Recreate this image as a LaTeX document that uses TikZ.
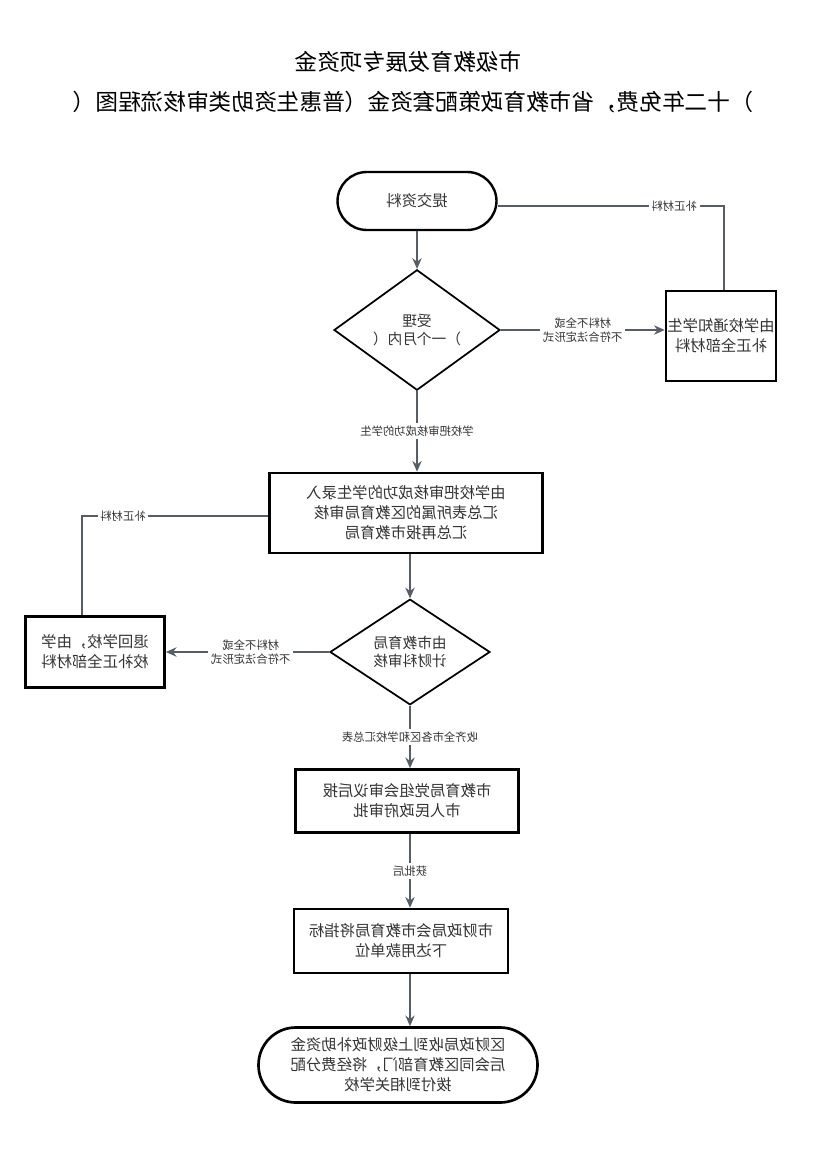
\documentclass[tikz,border=0pt]{standalone}
\usepackage{fontspec}
\usetikzlibrary{shapes.geometric,arrows.meta,positioning}
\newfontfamily\cjk{Noto Sans CJK SC}
\makeatletter
\def\mirtxt#1{\reflectbox{\mir@a{}#1\mir@end}}
\def\mir@a#1#2{\ifx#2\mir@end\mir@done{#1}\else\mir@next{#2#1}\fi}
\def\mir@done#1#2\fi{\fi#1}
\def\mir@next#1#2\fi{\fi\mir@a{#1}}
\def\mir@end{\mir@end}
\makeatother
\definecolor{ln}{HTML}{555E66}
\definecolor{tx}{HTML}{333333}
\tikzset{
 px/.style={x=0.75pt,y=-0.75pt},
 box/.style={draw=black,line width=2pt,align=center,font=\cjk\fontsize{11.5}{15}\selectfont,text=tx,inner sep=0pt},
 dia/.style={diamond,draw=black,line width=1.3pt,align=center,font=\cjk\fontsize{11}{14}\selectfont,text=tx,inner sep=0pt},
 con/.style={draw=ln,line width=1.6pt},
 arr/.style={con,-{Stealth[length=8pt,width=7pt]}},
 lab/.style={fill=white,font=\cjk\fontsize{8.5}{10.5}\selectfont,text=tx,align=center,inner sep=2pt},
 ttl/.style={font=\cjk\fontsize{17}{19}\selectfont,text=black},
}
\begin{document}
\begin{tikzpicture}[px]
\useasboundingbox (0,0) rectangle (826,1169);
\node[ttl] (t1) at (408,62) {\mirtxt{金资项专展发育教级市}};
\node[ttl] (t2) at (413,102) {\mirtxt{（图程流核审类助资生惠普（金资套配策政育教市省，费免年二十）}};
\node[box,line width=1.8pt,minimum width=159*0.75pt,minimum height=58*0.75pt,rounded corners=22pt] (s) at (417,201) {\mirtxt{料资交提}};
\node[dia,minimum width=166*0.75pt,minimum height=90*0.75pt] (d1) at (417,330) {\mirtxt{理受}\\\mirtxt{（内月个一）}};
\node[box,minimum width=110*0.75pt,minimum height=90*0.75pt] (b1) at (721,336) {\mirtxt{生学知通校学由}\\\mirtxt{料材部全正补}};
\node[box,minimum width=273*0.75pt,minimum height=80*0.75pt] (b2) at (406,513) {\mirtxt{入录生学的功成核审把校学由}\\\mirtxt{核审局育教区的属所表总汇}\\\mirtxt{局育教市报再总汇}};
\node[box,minimum width=139*0.75pt,minimum height=71*0.75pt] (b3) at (95,652) {\mirtxt{学由，校学回退}\\\mirtxt{料材部全正补校}};
\node[dia,minimum width=160*0.75pt,minimum height=105*0.75pt] (d2) at (410,652) {\mirtxt{局育教市由}\\\mirtxt{核审科财计}};
\node[box,minimum width=223*0.75pt,minimum height=63*0.75pt] (b4) at (407,801) {\mirtxt{报后议审会组党局育教市}\\\mirtxt{批审府政民人市}};
\node[box,minimum width=214*0.75pt,minimum height=64*0.75pt] (b5) at (401,941) {\mirtxt{标指将局育教市会局政财市}\\\mirtxt{位单款用达下}};
\node[box,minimum width=279*0.75pt,minimum height=75*0.75pt,rounded corners=28pt] (e) at (398,1065) {\mirtxt{金资助补政财级上到收局政财区}\\\mirtxt{配分费经将，门部育教区同会后}\\\mirtxt{校学关相到付拨}};
\draw[arr] (s) -- (d1);
\draw[arr] (d1.east) -- node[lab,pos=0.5]{\mirtxt{或全不料材}\\\mirtxt{式形定法合符不}} (b1.west|-d1.east);
\coordinate (c1) at (724,206);
\draw[con] (b1.north-|c1) -- (c1) -- node[lab,pos=0.22]{\mirtxt{料材正补}} (s.east|-c1);
\draw[arr] (d1.south) -- node[lab,pos=0.5]{\mirtxt{生学的功成核审把校学}} (d1.south|-b2.north);
\coordinate (c2) at (82,516);
\draw[con] (b2.west|-c2) -- node[lab,pos=0.78]{\mirtxt{料材正补}} (c2) -- (c2|-b3.north);
\draw[arr] (b2.south-|d2.north) -- (d2.north);
\draw[arr] (d2.west) -- node[lab,pos=0.48]{\mirtxt{或全不料材}\\\mirtxt{式形定法合符不}} (b3.east);
\draw[arr] (d2.south) -- node[lab,pos=0.5]{\mirtxt{表总汇校学和区各市全齐收}} (d2.south|-b4.north);
\draw[arr] (b4.south-|d2.south) -- node[lab,pos=0.5]{\mirtxt{后批获}} (d2.south|-b5.north);
\draw[arr] (b5.south-|d2.south) -- (d2.south|-e.north);
\end{tikzpicture}
\end{document}
